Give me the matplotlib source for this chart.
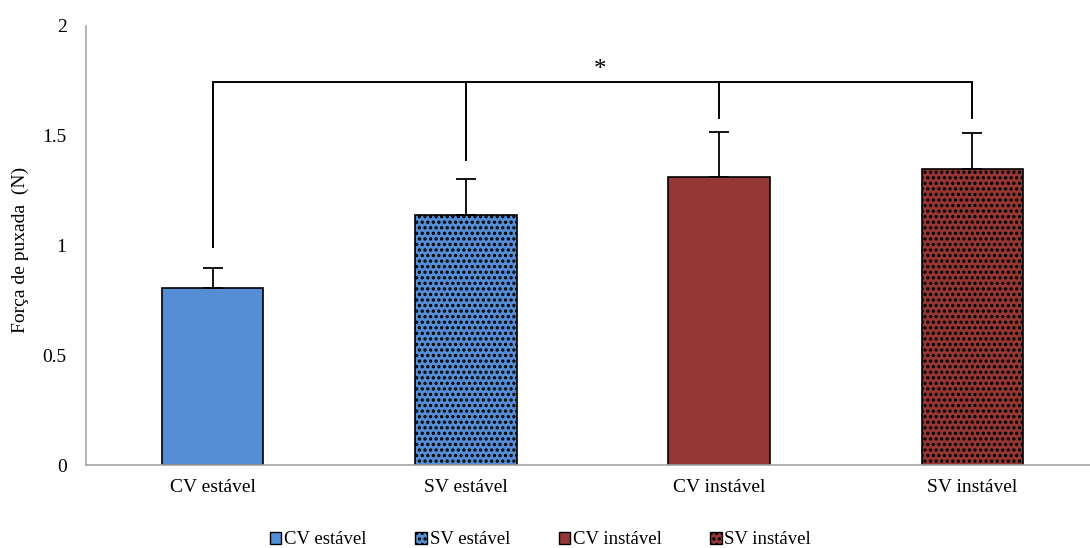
import matplotlib
matplotlib.use("Agg")
import matplotlib.pyplot as plt
from matplotlib.patches import Patch

plt.rcParams['font.family'] = ['Liberation Serif', 'DejaVu Serif']
plt.rcParams['hatch.linewidth'] = 1.6

categories = ["CV estável", "SV estável", "CV instável", "SV instável"]
means = [0.806, 1.139, 1.312, 1.349]
errors = [0.092, 0.164, 0.205, 0.164]
colors = ["#558ED5", "#558ED5", "#953735", "#953735"]
hatches = [None, "...", None, "..."]

# significance bracket
bracket_y = 1.745
drop_ends = [0.993, 1.39, 1.58, 1.58]

fig = plt.figure(figsize=(10.90, 5.48), dpi=100)
ax = fig.add_axes([86 / 1090, 83 / 548, 1013 / 1090, 439 / 548])

x = range(len(categories))
for i in x:
    ax.bar(i, means[i], width=0.4, color=colors[i], edgecolor="black",
           linewidth=1.2, hatch=hatches[i], zorder=2)
    ax.errorbar(i, means[i], yerr=[[0], [errors[i]]], fmt="none",
                ecolor="black", elinewidth=1.3, capsize=7, capthick=1.3, zorder=3)

ax.plot([0, 3], [bracket_y, bracket_y], color="black", lw=1.4, zorder=3)
for i in x:
    ax.plot([i, i], [drop_ends[i], bracket_y], color="black", lw=1.4, zorder=3)
ax.text(1.53, 1.80, "*", ha="center", va="center", fontsize=18)

ax.set_xlim(-0.5, 3.5)
ax.set_ylim(0, 2)
ax.set_yticks([0, 0.5, 1, 1.5, 2])
ax.set_yticklabels(["0", "0.5", "1", "1.5", "2"])
ax.set_xticks(list(x))
ax.set_xticklabels(categories)
ax.tick_params(axis="both", length=0, labelsize=14)
ax.tick_params(axis="y", pad=14)
ax.tick_params(axis="x", pad=10)
for s in ["top", "right"]:
    ax.spines[s].set_visible(False)
for s in ["left", "bottom"]:
    ax.spines[s].set_color("#A6A6A6")
    ax.spines[s].set_linewidth(1.2)

ax.set_ylabel("Força de puxada  (N)", fontsize=14)
ax.yaxis.set_label_coords(-0.056, 0.49)

handles = [Patch(facecolor=colors[i], edgecolor="black", hatch=hatches[i],
                 label=categories[i]) for i in x]
fig.legend(handles=handles, loc="center", bbox_to_anchor=(0.496, 0.015),
           ncol=4, frameon=False, fontsize=13.5, handlelength=0.6,
           handleheight=0.6, handletextpad=0.15, columnspacing=2.6)

fig.savefig("out.png", dpi=100)
